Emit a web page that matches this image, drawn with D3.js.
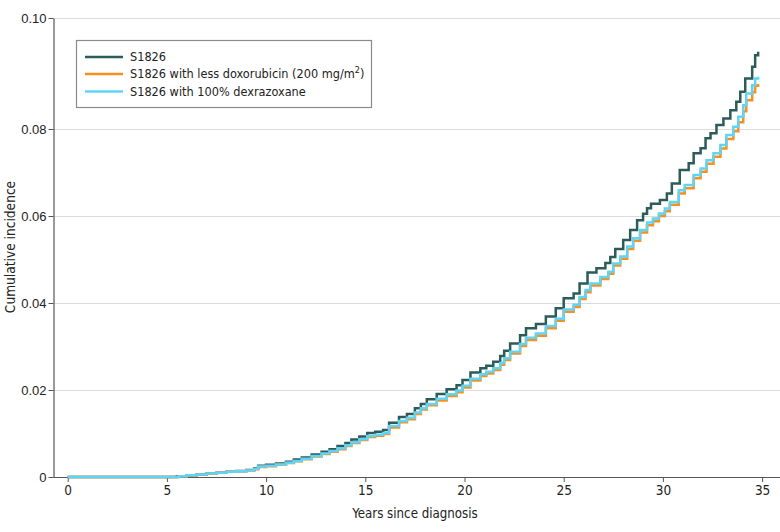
<!DOCTYPE html>
<html>
<head>
<meta charset="utf-8">
<script src="https://cdn.jsdelivr.net/npm/d3@7/dist/d3.min.js"></script>
<style>
  html, body { margin: 0; padding: 0; background: #fff; }
  svg { display: block; }
  text { font-family: "Liberation Sans Narrow", "DejaVu Sans Condensed", "Liberation Sans", sans-serif; fill: #222; }
</style>
</head>
<body>
<svg id="chart" width="780" height="532"></svg>
<script>
// ---- Data ----
const seriesNames = ["S1826", "S1826 with less doxorubicin (200 mg/m2)", "S1826 with 100% dexrazoxane"];

const s1826Years = [0, 5.2, 5.5, 6.0, 6.5, 7.0, 7.5, 8.0, 8.5, 9.0, 9.4, 9.6, 10.0, 10.5, 11.0, 11.4, 11.8, 12.3, 12.8, 13.2, 13.6, 14.0, 14.3, 14.7, 15.1, 15.5, 15.9, 16.2, 16.7, 17.1, 17.5, 17.8, 18.1, 18.6, 19.1, 19.6, 19.9, 20.3, 20.8, 21.1, 21.45, 21.8, 22.0, 22.3, 22.8, 23.1, 23.6, 24.1, 24.6, 25.0, 25.5, 25.8, 26.2, 26.65, 27.1, 27.35, 27.6, 28.0, 28.35, 28.7, 29.0, 29.2, 29.4, 29.85, 30.2, 30.45, 30.85, 31.3, 31.55, 31.9, 32.15, 32.4, 32.7, 33.05, 33.4, 33.7, 33.9, 34.15, 34.5, 34.65, 34.8];
const s1826Values = [0, 0, 0.0002, 0.0004, 0.0006, 0.0008, 0.0010, 0.0012, 0.0014, 0.0016, 0.0020, 0.0026, 0.0028, 0.0031, 0.0035, 0.0040, 0.0045, 0.0052, 0.0058, 0.0064, 0.0071, 0.0078, 0.0086, 0.0093, 0.0101, 0.0104, 0.0108, 0.0125, 0.0138, 0.0145, 0.0158, 0.0168, 0.0179, 0.0191, 0.0202, 0.0211, 0.0223, 0.0240, 0.0250, 0.0256, 0.0265, 0.0278, 0.0290, 0.0307, 0.0326, 0.0342, 0.0352, 0.0369, 0.0388, 0.0411, 0.0422, 0.0445, 0.0470, 0.0480, 0.0492, 0.0506, 0.0524, 0.0545, 0.0568, 0.0590, 0.0605, 0.0618, 0.0628, 0.0637, 0.0652, 0.0675, 0.0706, 0.0721, 0.0744, 0.0756, 0.0779, 0.0790, 0.0807, 0.0819, 0.0834, 0.0849, 0.0867, 0.0891, 0.0912, 0.0933, 0.0939];

const lessDoxoYears = [0, 5.3, 5.6, 6.0, 6.5, 7.0, 7.5, 8.0, 8.5, 9.0, 9.4, 9.6, 10.0, 10.5, 11.0, 11.4, 11.8, 12.3, 12.8, 13.2, 13.6, 14.0, 14.3, 14.7, 15.1, 15.5, 15.9, 16.2, 16.7, 17.1, 17.5, 17.8, 18.1, 18.6, 19.1, 19.6, 19.9, 20.3, 20.8, 21.1, 21.45, 21.8, 22.0, 22.3, 22.8, 23.1, 23.6, 24.1, 24.6, 25.0, 25.5, 25.8, 26.1, 26.35, 26.85, 27.25, 27.5, 27.85, 28.2, 28.5, 28.85, 29.2, 29.5, 29.8, 30.1, 30.35, 30.8, 31.1, 31.55, 31.9, 32.2, 32.55, 32.9, 33.2, 33.55, 33.8, 34.05, 34.2, 34.5, 34.65, 34.8];
const lessDoxoValues = [0, 0, 0.0002, 0.0004, 0.0006, 0.0008, 0.0010, 0.0012, 0.0013, 0.0015, 0.0018, 0.0023, 0.0025, 0.0028, 0.0032, 0.0036, 0.0041, 0.0047, 0.0053, 0.0058, 0.0064, 0.0071, 0.0078, 0.0085, 0.0092, 0.0095, 0.0099, 0.0114, 0.0126, 0.0133, 0.0145, 0.0155, 0.0165, 0.0176, 0.0186, 0.0195, 0.0206, 0.0222, 0.0232, 0.0238, 0.0246, 0.0258, 0.0269, 0.0284, 0.0301, 0.0315, 0.0325, 0.0342, 0.0359, 0.0380, 0.0391, 0.0409, 0.0425, 0.0440, 0.0455, 0.0467, 0.0486, 0.0502, 0.0524, 0.0543, 0.0562, 0.0579, 0.0588, 0.0600, 0.0611, 0.0626, 0.0652, 0.0664, 0.0687, 0.0702, 0.0720, 0.0736, 0.0755, 0.0777, 0.0795, 0.0812, 0.0832, 0.0852, 0.0866, 0.0878, 0.0881];

const dexraYears = [0, 5.3, 5.6, 6.0, 6.5, 7.0, 7.5, 8.0, 8.5, 9.0, 9.4, 9.6, 10.0, 10.5, 11.0, 11.4, 11.8, 12.3, 12.8, 13.2, 13.6, 14.0, 14.3, 14.7, 15.1, 15.5, 15.9, 16.2, 16.7, 17.1, 17.5, 17.8, 18.1, 18.6, 19.1, 19.6, 19.9, 20.3, 20.8, 21.1, 21.45, 21.8, 22.0, 22.3, 22.8, 23.1, 23.6, 24.1, 24.6, 25.0, 25.5, 25.8, 26.1, 26.35, 26.85, 27.25, 27.5, 27.85, 28.2, 28.5, 28.85, 29.2, 29.5, 29.8, 30.1, 30.35, 30.8, 31.1, 31.55, 31.9, 32.2, 32.55, 32.9, 33.2, 33.55, 33.8, 34.05, 34.2, 34.5, 34.65, 34.8];
const dexraValues = [0, 0, 0.0002, 0.0004, 0.0006, 0.0008, 0.0010, 0.0012, 0.0013, 0.0015, 0.0019, 0.0024, 0.0026, 0.0029, 0.0033, 0.0037, 0.0042, 0.0048, 0.0054, 0.0060, 0.0066, 0.0073, 0.0080, 0.0087, 0.0094, 0.0097, 0.0101, 0.0117, 0.0129, 0.0136, 0.0148, 0.0158, 0.0168, 0.0180, 0.0190, 0.0199, 0.0210, 0.0226, 0.0236, 0.0242, 0.0250, 0.0262, 0.0273, 0.0288, 0.0306, 0.0320, 0.0330, 0.0347, 0.0364, 0.0385, 0.0396, 0.0414, 0.0430, 0.0445, 0.0460, 0.0472, 0.0491, 0.0507, 0.0530, 0.0549, 0.0568, 0.0585, 0.0594, 0.0606, 0.0617, 0.0632, 0.0659, 0.0671, 0.0694, 0.0709, 0.0728, 0.0744, 0.0763, 0.0786, 0.0804, 0.0822, 0.0843, 0.0864, 0.0879, 0.0891, 0.0894];

const xTickValues = [0, 5, 10, 15, 20, 25, 30, 35];
const yTickValues = [0, 0.02, 0.04, 0.06, 0.08, 0.10];
const yTickLabels = ["0", "0.02", "0.04", "0.06", "0.08", "0.10"];
const colors = ["#2b5c5a", "#f7901e", "#5fd4f6"];

// ---- Layout ----
const svg = d3.select("#chart");
const axisX0 = 53.5, rightEdge = 780;
const x = d3.scaleLinear().domain([0, 35]).range([67.7, 762.1]);
const y = d3.scaleLinear().domain([0, 0.08, 0.10]).range([477, 129, 18]);

// gridlines
svg.append("g").selectAll("line")
  .data(yTickValues.filter(v => v > 0))
  .join("line")
  .attr("x1", axisX0).attr("x2", rightEdge)
  .attr("y1", d => Math.round(y(d)) + 0.5).attr("y2", d => Math.round(y(d)) + 0.5)
  .attr("stroke", "#dcdcdc").attr("stroke-width", 1.2);

// y axis
const yAxis = svg.append("g")
  .attr("transform", `translate(${axisX0},0)`)
  .call(d3.axisLeft(y).tickValues(yTickValues).tickSize(5).tickSizeOuter(0)
    .tickFormat((d, i) => yTickLabels[i]));
yAxis.select(".domain").attr("stroke", "#555").attr("stroke-width", 1.2);
yAxis.selectAll(".tick line").attr("stroke", "#555");
yAxis.selectAll(".tick text").attr("x", -7).attr("dy", "0.35em")
  .style("font-family", "'Liberation Sans', Arial, sans-serif").attr("font-size", 13);

// x axis
const xAxis = svg.append("g")
  .attr("transform", `translate(0,${y(0)})`)
  .call(d3.axisBottom(x).tickValues(xTickValues).tickSize(5).tickSizeOuter(0));
xAxis.select(".domain").remove();
xAxis.append("line").attr("x1", axisX0).attr("x2", rightEdge).attr("y1", 0.5).attr("y2", 0.5)
  .attr("stroke", "#555").attr("stroke-width", 1.2);
xAxis.selectAll(".tick line").attr("stroke", "#555");
xAxis.selectAll(".tick text").attr("font-size", 13.5).attr("y", 8);

// axis titles
svg.append("text").attr("x", 415).attr("y", 518).attr("text-anchor", "middle")
  .attr("font-size", 13.2).text("Years since diagnosis");
svg.append("text").attr("transform", "translate(15,247) rotate(-90)").attr("text-anchor", "middle")
  .attr("font-size", 13.6).text("Cumulative incidence");

// lines
const series = [
  { years: s1826Years, values: s1826Values, color: colors[0] },
  { years: lessDoxoYears, values: lessDoxoValues, color: colors[1] },
  { years: dexraYears, values: dexraValues, color: colors[2] }
];
const line = d3.line().x(d => x(d[0])).y(d => y(d[1])).curve(d3.curveStepAfter);
series.forEach(s => {
  const pts = s.years.map((t, i) => [t, s.values[i]]);
  svg.append("path").attr("d", line(pts)).attr("fill", "none")
    .attr("stroke", s.color).attr("stroke-width", 2.5).attr("stroke-linejoin", "miter");
});

// legend
const lg = svg.append("g");
lg.append("rect").attr("x", 76.5).attr("y", 40.5).attr("width", 295).attr("height", 67)
  .attr("fill", "#fff").attr("stroke", "#8a8a8a").attr("stroke-width", 1.2);
const legendY = [57, 74, 91.5];
seriesNames.forEach((name, i) => {
  lg.append("line").attr("x1", 85).attr("x2", 123).attr("y1", legendY[i]).attr("y2", legendY[i])
    .attr("stroke", colors[i]).attr("stroke-width", 2.5);
  const t = lg.append("text").attr("x", 130).attr("y", legendY[i]).attr("dy", "0.35em").attr("font-size", 12.6);
  if (name.endsWith("m2)")) {
    t.append("tspan").text(name.slice(0, -2));
    t.append("tspan").attr("font-size", 9).attr("dy", "-5").text("2");
    t.append("tspan").attr("dy", "5").text(")");
  } else {
    t.text(name);
  }
});
</script>
</body>
</html>
